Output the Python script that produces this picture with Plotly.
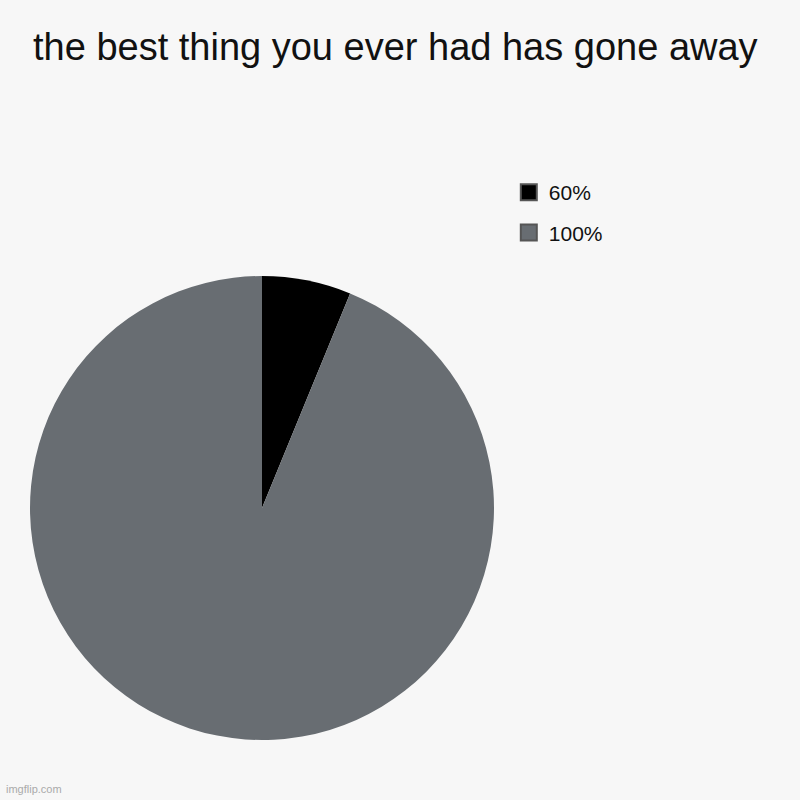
import plotly.graph_objects as go

# slice labels and shares
labels = ["60%", "100%"]
values = [6.2, 93.8]
colors = ["#000000", "#686d72"]

fig = go.Figure()

fig.add_trace(go.Pie(
    labels=labels,
    values=values,
    marker=dict(colors=colors, line=dict(width=0)),
    sort=False,
    direction="clockwise",
    rotation=0,
    textinfo="none",
    showlegend=False,
    domain=dict(x=[0.0375, 0.6175], y=[0.075, 0.655]),
))

# legend entries (bigger squares than the pie legend gives)
for lab, col in zip(labels, colors):
    fig.add_trace(go.Scatter(
        x=[None], y=[None],
        mode="markers",
        name=lab,
        legendgroup=lab,
        marker=dict(symbol="square", size=16, color=col,
                    line=dict(color="#555555", width=2)),
    ))

fig.update_layout(
    width=800,
    height=800,
    margin=dict(l=0, r=0, t=0, b=0),
    paper_bgcolor="#f7f7f7",
    plot_bgcolor="#f7f7f7",
    font=dict(family="Liberation Sans, Arial, sans-serif", color="#111111"),
    title=dict(
        text="the best thing you ever had has gone away",
        font=dict(size=38, color="#111111"),
        x=33 / 800, xanchor="left", xref="paper",
        y=1 - 47 / 800, yanchor="middle", yref="container",
    ),
    xaxis=dict(visible=False),
    yaxis=dict(visible=False),
    legend=dict(
        x=0.636, y=1 - 172 / 800,
        xanchor="left", yanchor="top",
        font=dict(size=21, color="#111111"),
        bgcolor="rgba(0,0,0,0)",
        traceorder="grouped",
        tracegroupgap=10,
        itemsizing="trace",
    ),
    annotations=[dict(
        text="imgflip.com", x=4 / 800, y=3 / 800,
        xref="paper", yref="paper", xanchor="left", yanchor="bottom",
        showarrow=False, font=dict(size=11, color="#aaaaaa"),
    )],
)

# page margin off so the 800x800 figure fills the window
fig.write_html(
    "out.html",
    config={"displayModeBar": False},
    post_script="document.body.style.margin='0';document.body.style.overflow='hidden';",
)
